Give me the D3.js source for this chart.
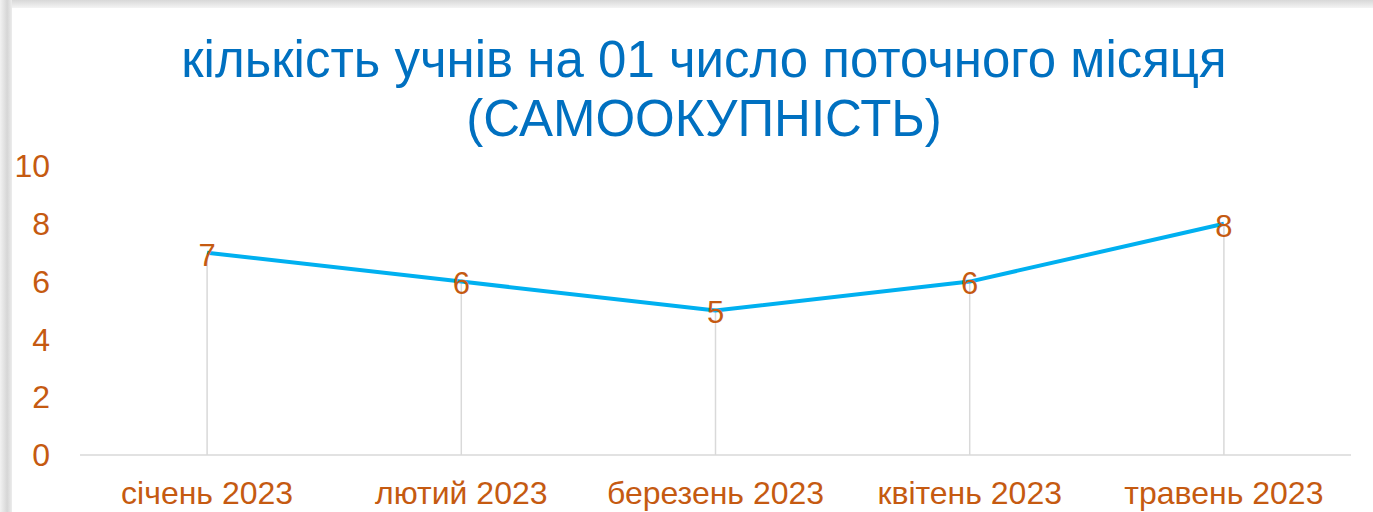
<!DOCTYPE html>
<html>
<head>
<meta charset="utf-8">
<script src="https://cdn.jsdelivr.net/npm/d3@7"></script>
<style>
  body { margin: 0; background: #fff; }
  svg text { font-family: "Liberation Sans", Arial, sans-serif; }
</style>
</head>
<body>
<svg width="1373" height="512"></svg>
<script>
// data
let months = ["січень 2023", "лютий 2023", "березень 2023", "квітень 2023", "травень 2023"];
let students = [7, 6, 5, 6, 8];
let yTicks = [0, 2, 4, 6, 8, 10];
let titleLines = ["кількість учнів на 01 число поточного місяця", "(САМООКУПНІСТЬ)"];

let orange = "#C55A11";
let svg = d3.select("svg");

// slide background: blurred grey edges on top and left
let defs = svg.append("defs");
let gTop = defs.append("linearGradient").attr("id", "topfade").attr("x1", 0).attr("y1", 0).attr("x2", 0).attr("y2", 1);
gTop.append("stop").attr("offset", "0%").attr("stop-color", "#d8d8d8");
gTop.append("stop").attr("offset", "100%").attr("stop-color", "#f4f4f4");
let gLeft = defs.append("linearGradient").attr("id", "leftfade").attr("x1", 0).attr("y1", 0).attr("x2", 1).attr("y2", 0);
gLeft.append("stop").attr("offset", "0%").attr("stop-color", "#f2f2f2");
gLeft.append("stop").attr("offset", "60%").attr("stop-color", "#d6d6d6");
gLeft.append("stop").attr("offset", "100%").attr("stop-color", "#ececec");

svg.append("rect").attr("width", 1373).attr("height", 8).attr("fill", "url(#topfade)");
svg.append("rect").attr("width", 12).attr("height", 512).attr("fill", "url(#leftfade)");

// scales
let x = d3.scaleBand().domain(months).range([80, 1351]);
let y = d3.scaleLinear().domain([0, 10]).range([455, 166]);

// title
svg.append("g")
  .selectAll("text")
  .data(titleLines)
  .enter()
  .append("text")
  .attr("x", 704)
  .attr("y", function (d, i) {
    return 77 + i * 59;
  })
  .attr("text-anchor", "middle")
  .attr("font-size", 51)
  .attr("fill", "#0070C0")
  .text(function (d) {
    return d;
  });

// y labels
svg.append("g")
  .selectAll("text")
  .data(yTicks)
  .enter()
  .append("text")
  .attr("x", 50)
  .attr("y", function (d) {
    return y(d);
  })
  .attr("dy", "0.35em")
  .attr("text-anchor", "end")
  .attr("font-size", 32)
  .attr("fill", orange)
  .text(function (d) {
    return d;
  });

// drop lines
svg.append("g")
  .selectAll("line")
  .data(students)
  .enter()
  .append("line")
  .attr("x1", function (d, i) {
    return x(months[i]) + x.bandwidth() / 2;
  })
  .attr("x2", function (d, i) {
    return x(months[i]) + x.bandwidth() / 2;
  })
  .attr("y1", function (d) {
    return y(d);
  })
  .attr("y2", y(0))
  .attr("stroke", "#d9d9d9")
  .attr("stroke-width", 1.5);

// x axis line
svg.append("line")
  .attr("x1", x.range()[0])
  .attr("x2", x.range()[1])
  .attr("y1", y(0))
  .attr("y2", y(0))
  .attr("stroke", "#d9d9d9")
  .attr("stroke-width", 1.5);

// x labels
svg.append("g")
  .selectAll("text")
  .data(months)
  .enter()
  .append("text")
  .attr("x", function (d) {
    return x(d) + x.bandwidth() / 2;
  })
  .attr("y", 504)
  .attr("text-anchor", "middle")
  .attr("font-size", 32)
  .attr("fill", orange)
  .text(function (d) {
    return d;
  });

// line
let line = d3.line()
  .x(function (d, i) {
    return x(months[i]) + x.bandwidth() / 2;
  })
  .y(function (d) {
    return y(d);
  });

svg.append("path")
  .datum(students)
  .attr("d", line)
  .attr("fill", "none")
  .attr("stroke", "#00B0F0")
  .attr("stroke-width", 4)
  .attr("stroke-linejoin", "round");

// data labels
svg.append("g")
  .selectAll("text")
  .data(students)
  .enter()
  .append("text")
  .attr("x", function (d, i) {
    return x(months[i]) + x.bandwidth() / 2;
  })
  .attr("y", function (d) {
    return y(d) + 2;
  })
  .attr("dy", "0.35em")
  .attr("text-anchor", "middle")
  .attr("font-size", 31)
  .attr("fill", orange)
  .text(function (d) {
    return d;
  });
</script>
</body>
</html>
